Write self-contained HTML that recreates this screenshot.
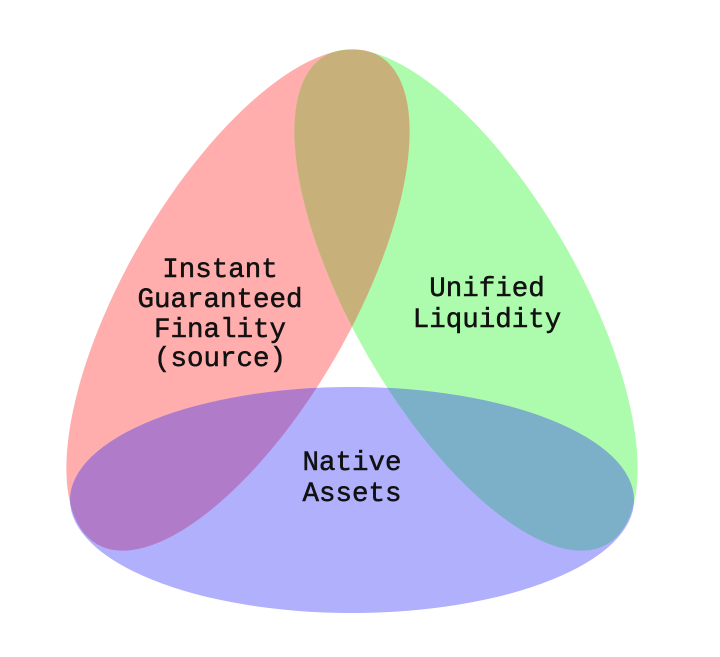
<!DOCTYPE html>
<html><head><meta charset="utf-8"><style>
html,body{margin:0;padding:0;background:#fff;}
svg{display:block;}
text{font-family:"Liberation Mono",monospace;font-size:27.5px;fill:#111;stroke:#111;stroke-width:0.5;text-anchor:middle;}
</style></head><body>
<svg width="720" height="657" viewBox="0 0 720 657">
<defs>
<clipPath id="cr"><ellipse cx="238" cy="300" rx="282" ry="113" transform="rotate(-60 238 300)"/></clipPath>
<clipPath id="cg"><ellipse cx="466" cy="300" rx="282" ry="113" transform="rotate(60 466 300)"/></clipPath>
</defs>
<ellipse cx="238" cy="300" rx="282" ry="113" transform="rotate(-60 238 300)" fill="#ffadad"/>
<ellipse cx="466" cy="300" rx="282" ry="113" transform="rotate(60 466 300)" fill="#adfcad"/>
<g clip-path="url(#cr)"><ellipse cx="466" cy="300" rx="282" ry="113" transform="rotate(60 466 300)" fill="#c8b07b"/></g>
<ellipse cx="352" cy="500" rx="282" ry="113" fill="#b0b0fd"/>
<g clip-path="url(#cr)"><ellipse cx="352" cy="500" rx="282" ry="113" fill="#b07cca"/></g>
<g clip-path="url(#cg)"><ellipse cx="352" cy="500" rx="282" ry="113" fill="#7bb0c8"/></g>
<text x="220" y="277">Instant</text>
<text x="220" y="307">Guaranteed</text>
<text x="220" y="337">Finality</text>
<text x="220" y="366">(source)</text>
<text x="487" y="296">Unified</text>
<text x="487" y="327">Liquidity</text>
<text x="352" y="470">Native</text>
<text x="352" y="501">Assets</text>
</svg>
</body></html>
